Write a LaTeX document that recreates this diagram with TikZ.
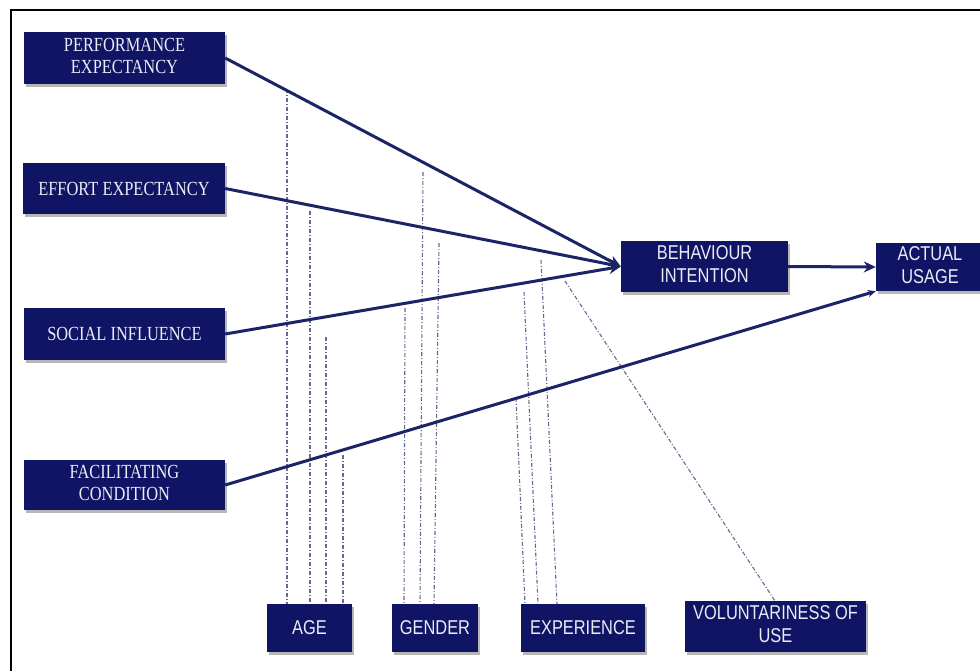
\documentclass[tikz,border=0pt]{standalone}
\usepackage{fontspec}
\setmainfont{Liberation Serif}
\newfontfamily\sansf{Liberation Sans}
\usetikzlibrary{shadows,arrows.meta}
\definecolor{navy}{RGB}{16,20,100}
\definecolor{linecol}{RGB}{28,36,104}
\definecolor{modcol}{RGB}{100,105,145}
\definecolor{txt}{RGB}{234,236,244}
\newcommand\sqz[1]{\scalebox{0.82}[1]{#1}}
\begin{document}
\begin{tikzpicture}[x=1pt,y=-1pt,
  box/.style={fill=navy, text=txt, inner sep=0pt, align=center,
    drop shadow={shadow xshift=2pt, shadow yshift=-3pt, opacity=0.4, fill=black!70}},
  serifbox/.style={box, font=\fontsize{20}{22}\selectfont},
  sansbox/.style={box, font=\sansf\fontsize{20}{23}\selectfont},
  conn/.style={draw=linecol, line width=3pt},
  tip/.style={-{Stealth[length=12pt,width=11pt]}},
  mod/.style={draw=modcol, line width=1.1pt, dash pattern=on 4pt off 2pt on 1pt off 2pt}]
\useasboundingbox (0,0) rectangle (980,670);
\clip (0,0) rectangle (980,670);
\fill[white] (0,0) rectangle (980,670);
\draw[line width=2pt] (11,10) rectangle (1000,700);

% main constructs
\node[serifbox, minimum width=201pt, minimum height=52pt] (pe) at (124.5,58)
  {\sqz{\begin{tabular}{@{}c@{}}PERFORMANCE\\EXPECTANCY\end{tabular}}};
\node[serifbox, minimum width=202pt, minimum height=51pt] (ee) at (124,188.5)
  {\sqz{EFFORT EXPECTANCY}};
\node[serifbox, minimum width=201pt, minimum height=52pt] (si) at (124.5,334)
  {\sqz{SOCIAL INFLUENCE}};
\node[serifbox, minimum width=201pt, minimum height=50pt] (fc) at (124.5,485)
  {\sqz{\begin{tabular}{@{}c@{}}FACILITATING\\CONDITION\end{tabular}}};

\node[sansbox, minimum width=167pt, minimum height=51pt] (bi) at (704.5,266.5)
  {\sqz{\begin{tabular}{@{}c@{}}BEHAVIOUR\\INTENTION\end{tabular}}};
\node[sansbox, minimum width=108pt, minimum height=48pt] (au) at (930,267)
  {\sqz{\begin{tabular}{@{}c@{}}ACTUAL\\USAGE\end{tabular}}};

% moderators
\node[sansbox, minimum width=85pt, minimum height=48pt] (age) at (309.5,628) {\sqz{AGE}};
\node[sansbox, minimum width=86pt, minimum height=48pt] (gen) at (435,628) {\sqz{GENDER}};
\node[sansbox, minimum width=124pt, minimum height=48pt] (exp) at (583,628) {\sqz{EXPERIENCE}};
\node[sansbox, minimum width=181pt, minimum height=51pt] (vol) at (775.5,626.5)
  {\sqz{\begin{tabular}{@{}c@{}}VOLUNTARINESS OF\\USE\end{tabular}}};

% moderator line ends
\coordinate (a1) at (287,89);
\coordinate (a2) at (310,211);
\coordinate (a3) at (326,337);
\coordinate (a4) at (343,455);
\coordinate (g1) at (405,308);  \coordinate (g1b) at (404,604);
\coordinate (g2) at (423,172);  \coordinate (g2b) at (420,604);
\coordinate (g3) at (439,243);  \coordinate (g3b) at (434,604);
\coordinate (x1) at (516,398);  \coordinate (x1b) at (525,604);
\coordinate (x2) at (524,292);  \coordinate (x2b) at (538,604);
\coordinate (x3) at (541,260);  \coordinate (x3b) at (557,604);
\coordinate (v1) at (565,281);  \coordinate (v1b) at (775,601);

\draw[mod] (a1) -- (a1 |- age.north);
\draw[mod] (a2) -- (a2 |- age.north);
\draw[mod] (a3) -- (a3 |- age.north);
\draw[mod] (a4) -- (a4 |- age.north);
\draw[mod] (g1) -- (g1b);
\draw[mod] (g2) -- (g2b);
\draw[mod] (g3) -- (g3b);
\draw[mod] (x1) -- (x1b);
\draw[mod] (x2) -- (x2b);
\draw[mod] (x3) -- (x3b);
\draw[mod] (v1) -- (v1b);

% main connectors
\draw[conn, tip] (pe.east) -- (bi.west);
\draw[conn, tip] (ee.east) -- (bi.west);
\draw[conn, tip] (si.east) -- (bi.west);
\draw[conn, tip] (bi.east) -- (au.west);
\draw[conn, -{Stealth[length=8pt,width=7pt]}] (fc.east) -- (au.south west);
\end{tikzpicture}
\end{document}
